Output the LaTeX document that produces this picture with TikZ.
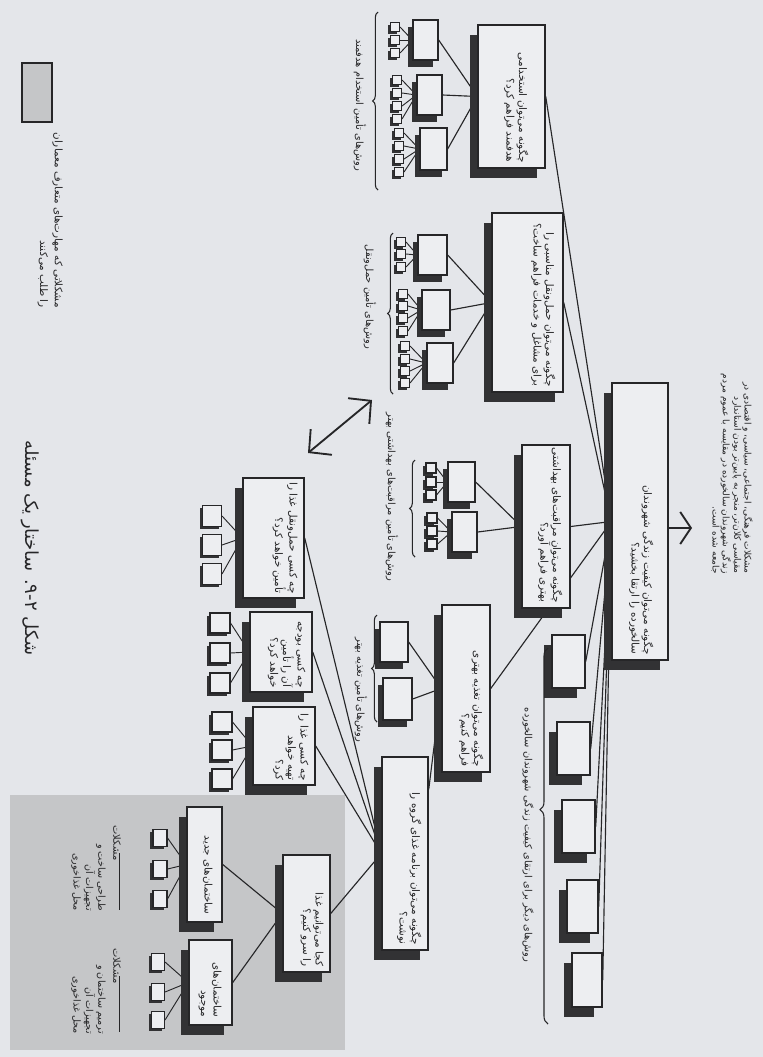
\documentclass[tikz,border=0pt]{standalone}
\usepackage{fontspec}
\newfontfamily\fa[Script=Arabic]{DejaVu Sans}
\TeXXeTstate=1
\usetikzlibrary{shadows,decorations.pathreplacing,arrows.meta,calc}
\pgfdeclarelayer{bglayer}
\pgfdeclarelayer{linelayer}
\pgfsetlayers{bglayer,linelayer,main}
\definecolor{bgcol}{RGB}{228,230,234}
\definecolor{boxfill}{RGB}{237,238,241}
\definecolor{shadowcol}{RGB}{50,50,52}
\definecolor{inkcol}{RGB}{38,38,40}
\definecolor{graycol}{RGB}{197,198,200}
\newcommand{\myrl}[1]{\beginR #1\endR}
\begin{document}
\begin{tikzpicture}[x=0.75pt,y=-0.75pt,
  box/.style={draw=inkcol,line width=1.1pt,fill=boxfill,inner sep=0pt,
     drop shadow={shadow xshift=-6pt,shadow yshift=-7.5pt,opacity=1,fill=shadowcol}},
  mbox/.style={draw=inkcol,line width=1pt,fill=boxfill,inner sep=0pt,
     drop shadow={shadow xshift=-3.4pt,shadow yshift=-5.5pt,opacity=1,fill=shadowcol}},
  sbox/.style={draw=inkcol,line width=0.8pt,fill=boxfill,inner sep=0pt,
     drop shadow={shadow xshift=-2.2pt,shadow yshift=-2.2pt,opacity=1,fill=shadowcol}},
  sz/.style 2 args={minimum width=#1*0.75pt,minimum height=#2*0.75pt},
  conn/.style={draw=inkcol,line width=0.85pt},
  txt/.style={rotate=-90,anchor=north east,align=right,inner sep=0pt,text=inkcol,
     font=\fa\fontsize{7.8}{9.4}\selectfont},
  lbl/.style={rotate=-90,inner sep=0pt,text=inkcol,font=\fa\fontsize{7.4}{9}\selectfont},
  brc/.style={draw=inkcol,line width=0.8pt,decorate,decoration={brace,amplitude=4pt}},
  chev/.style={draw=inkcol,line width=1.4pt},
  rule/.style={draw=inkcol,line width=0.7pt}
]
\useasboundingbox (0,0) rectangle (763,1057);
\begin{pgfonlayer}{bglayer}
  \fill[bgcol] (0,0) rectangle (763,1057);
  \node[fill=graycol,sz={335}{255},inner sep=0pt] (zone) at (177.5,922.5) {};
\end{pgfonlayer}

% main boxes
\node[box,sz={56}{277}] (root) at (640,521.5) {};
\node[box,sz={67}{143}] (a) at (511.5,96.5) {};
\node[box,sz={71}{179}] (b) at (527.5,302.5) {};
\node[box,sz={48}{163}] (c) at (546,526.5) {};
\node[box,sz={48}{167}] (d) at (466,688.5) {};
\node[box,sz={46}{193}] (e) at (405,853.5) {};
\node[box,sz={61}{120}] (f1) at (273.5,538) {};
\node[box,sz={62}{80}] (f2) at (281,652) {};
\node[box,sz={62}{78}] (f3) at (284,746) {};
\node[box,sz={47}{117}] (g) at (306.5,913.5) {};
\node[box,sz={35}{115}] (h1) at (204.5,864.5) {};
\node[box,sz={43}{85}] (h2) at (210.5,982.5) {};

% intermediate boxes
\node[mbox,sz={25}{40}] (a1) at (425.5,40) {};
\node[mbox,sz={25}{40}] (a2) at (429.5,95) {};
\node[mbox,sz={27}{42}] (a3) at (433.5,149) {};
\node[mbox,sz={29}{40}] (b1) at (432.5,255) {};
\node[mbox,sz={28}{40}] (b2) at (436,310) {};
\node[mbox,sz={26}{40}] (b3) at (440,363) {};
\node[mbox,sz={27}{40}] (c1) at (461.5,482) {};
\node[mbox,sz={25}{40}] (c2) at (464.5,532) {};
\node[mbox,sz={28}{40}] (d1) at (394,642) {};
\node[mbox,sz={29}{42}] (d2) at (397.5,699) {};
\node[box,sz={33}{53}] (r1) at (568.5,661.5) {};
\node[box,sz={33}{53}] (r2) at (573.5,748.5) {};
\node[box,sz={33}{53}] (r3) at (578.5,826.5) {};
\node[box,sz={31}{53}] (r4) at (582.5,906.5) {};
\node[box,sz={30}{54}] (r5) at (587,980) {};

% small boxes
\foreach \p/\cx/\w/\h/\ys in {
  a1/395/9/9/{27,40,53}, a2/397/9/9/{80,93,106,119}, a3/399/9/9/{133,146,159,172},
  b1/401/9/9/{242,254,267}, b2/403/9/9/{294,306,318,331}, b3/405/9/9/{346,359,371,383},
  c1/431/10/10/{468,482,495}, c2/432/10/10/{518,531,544},
  f1/212/19/21/{516,545,574}, f2/220/20/20/{623,653,683}, f3/222/20/20/{722,750,779},
  h1/160/14/17/{838,869,899}, h2/158/13/17/{962,992,1020}}{
  \foreach \yy [count=\k] in \ys {
    \node[sbox,sz={\w}{\h}] (\p s\k) at (\cx,\yy) {};
  }
}

\coordinate (eTop) at ($(e.north east)!0.17!(e.south east)$);

% connectors
\begin{pgfonlayer}{linelayer}
  \foreach \n in {a,b,c,d,r1,r2,r3,r4,r5} \draw[conn] (root.west) -- (\n.east);
  \foreach \n in {a1,a2,a3} \draw[conn] (a.west) -- (\n.east);
  \foreach \n in {b1,b2,b3} \draw[conn] (b.west) -- (\n.east);
  \foreach \n in {c1,c2} \draw[conn] (c.west) -- (\n.east);
  \foreach \n in {d1,d2} \draw[conn] (d.west) -- (\n.east);
  \draw[conn] (d.west) -- (eTop);
  \foreach \n in {f1,f2,f3,g} \draw[conn] (e.west) -- (\n.east);
  \foreach \n in {h1,h2} \draw[conn] (g.west) -- (\n.east);
  \foreach \p/\ys in {a1/{27,40,53}, a2/{80,93,106,119}, a3/{133,146,159,172},
    b1/{242,254,267}, b2/{294,306,318,331}, b3/{346,359,371,383},
    c1/{468,482,495}, c2/{518,531,544}, f1/{516,545,574}, f2/{623,653,683},
    f3/{722,750,779}, h1/{838,869,899}, h2/{962,992,1020}}{
    \foreach \yy [count=\k] in \ys {
      \draw[conn,line width=0.7pt] (\p.west) -- (\p s\k.east);
    }
  }
\end{pgfonlayer}

% box texts
\node[txt] (root-t) at ($(root.south east)+(-15,-6)$)
  {\myrl{چگونه می‌توان کیفیت زندگی شهروندان}\\\myrl{سالخورده را ارتقا بخشید؟}};
\node[txt] (a-t) at ($(a.south east)+(-17,-6)$)
  {\myrl{چگونه می‌توان استخدامی}\\\myrl{هدفمند فراهم کرد؟}};
\node[txt] (b-t) at ($(b.south east)+(-8,-6)$)
  {\myrl{چگونه می‌توان حمل‌ونقل مناسبی را}\\\myrl{برای مشاغل و خدمات فراهم ساخت؟}};
\node[txt] (c-t) at ($(c.south east)+(-8,-6)$)
  {\myrl{چگونه می‌توان مراقبت‌های بهداشتی}\\\myrl{بهتری فراهم آورد؟}};
\node[txt] (d-t) at ($(d.south east)+(-7,-6)$)
  {\myrl{چگونه می‌توان تغذیه بهتری}\\\myrl{فراهم کنیم؟}};
\node[txt] (e-t) at ($(e.south east)+(-7,-6)$)
  {\myrl{چگونه می‌توان برنامه غذای گروه را}\\\myrl{نوشت؟}};
\node[txt] (f1-t) at ($(f1.south east)+(-7,-5)$)
  {\myrl{چه کسی حمل‌ونقل غذا را}\\\myrl{تأمین خواهد کرد؟}};
\node[txt] (f2-t) at ($(f2.south east)+(-7,-5)$)
  {\myrl{چه کسی بودجه}\\\myrl{آن را تأمین}\\\myrl{خواهد کرد؟}};
\node[txt] (f3-t) at ($(f3.south east)+(-7,-5)$)
  {\myrl{چه کسی غذا را}\\\myrl{تهیه خواهد}\\\myrl{کرد؟}};
\node[txt] (g-t) at ($(g.south east)+(-7,-6)$)
  {\myrl{کجا می‌توانیم غذا}\\\myrl{را سرو کنیم؟}};
\node[txt] (h1-t) at ($(h1.south east)+(-10,-8)$)
  {\myrl{ساختمان‌های جدید}};
\node[txt] (h2-t) at ($(h2.south east)+(-11,-8)$)
  {\myrl{ساختمان‌های}\\\myrl{موجود}};

% text beside root and arrow
\node[txt,font=\fa\fontsize{6.8}{7.6}\selectfont] (rt) at (753,574)
  {\myrl{مشکلات فرهنگی، اجتماعی، سیاسی، و اقتصادی در}\\
   \myrl{مقیاسی کلان‌تر، منجر به پایین‌تر بودن استاندارد}\\
   \myrl{زندگی شهروندان سالخورده در مقایسه با عموم مردم}\\
   \myrl{جامعه شده است.}};
\coordinate (rTip) at (692,528);
\draw[chev,-{Straight Barb[length=8pt,width=24pt]}] (root.east |- rTip) -- (rTip);

% braces and labels
\coordinate (ba1) at (378,190); \coordinate (ba2) at (378,12);
\coordinate (bb1) at (393,394); \coordinate (bb2) at (393,233);
\coordinate (bc1) at (415,557); \coordinate (bc2) at (415,460);
\coordinate (bd1) at (377,722); \coordinate (bd2) at (377,615);
\coordinate (br1) at (548,1024); \coordinate (br2) at (548,648);
\draw[brc] (ba1) -- (ba2);
\draw[brc] (bb1) -- (bb2);
\draw[brc] (bc1) -- (bc2);
\draw[brc] (bd1) -- (bd2);
\draw[brc,decoration={brace,amplitude=6pt,aspect=0.57}] (br1) -- (br2);
\node[lbl] (la) at (360,105) {\myrl{روش‌های تأمین استخدام هدفمند}};
\node[lbl] (lb) at (370,297) {\myrl{روش‌های تأمین حمل‌ونقل}};
\node[lbl] (lc) at (392,497) {\myrl{روش‌های تأمین مراقبت‌های بهداشتی بهتر}};
\node[lbl] (ld) at (361,690) {\myrl{روش‌های تأمین تغذیه بهتر}};
\node[lbl] (lr) at (528,835) {\myrl{روش‌های دیگر برای ارتقای کیفیت زندگی شهروندان سالخورده}};

% double arrow
\coordinate (dA) at (372,400); \coordinate (dB) at (308,453);
\draw[chev,{Straight Barb[length=12pt,width=25pt]}-{Straight Barb[length=12pt,width=25pt]}] (dB) -- (dA);

% notes in grey zone
\node[lbl] (n1h) at (117,843) {\myrl{مشکلات}};
\coordinate (n1a) at (119,853); \coordinate (n1b) at (119,910);
\draw[rule] (n1a) -- (n1b);
\node[txt,font=\fa\fontsize{7.2}{9.3}\selectfont] (n1t) at (106,911)
  {\myrl{طراحی ساخت و}\\\myrl{تجهیزات آن}\\\myrl{محل غذاخوری}};
\node[lbl] (n2h) at (117,966) {\myrl{مشکلات}};
\coordinate (n2a) at (119,976); \coordinate (n2b) at (119,1032);
\draw[rule] (n2a) -- (n2b);
\node[txt,font=\fa\fontsize{7.2}{9.3}\selectfont] (n2t) at (106,1034)
  {\myrl{ترمیم ساختمان و}\\\myrl{تجهیزات آن}\\\myrl{محل غذاخوری}};

% legend
\node[draw=inkcol,line width=0.9pt,fill=graycol,sz={30}{59},inner sep=0pt] (leg) at (37,92.5) {};
\node[txt,font=\fa\fontsize{7.8}{11}\selectfont] (leg-t) at (63,308)
  {\myrl{مشکلاتی که مهارت‌های متعارف معماران}\\\myrl{را طلب می‌کنند}};

% title
\node[lbl,font=\fa\fontsize{13.5}{16}\selectfont] (title) at (30,548)
  {\myrl{شکل \beginL۹-۲\endL. ساختار یک مسئله}};
\end{tikzpicture}
\end{document}
